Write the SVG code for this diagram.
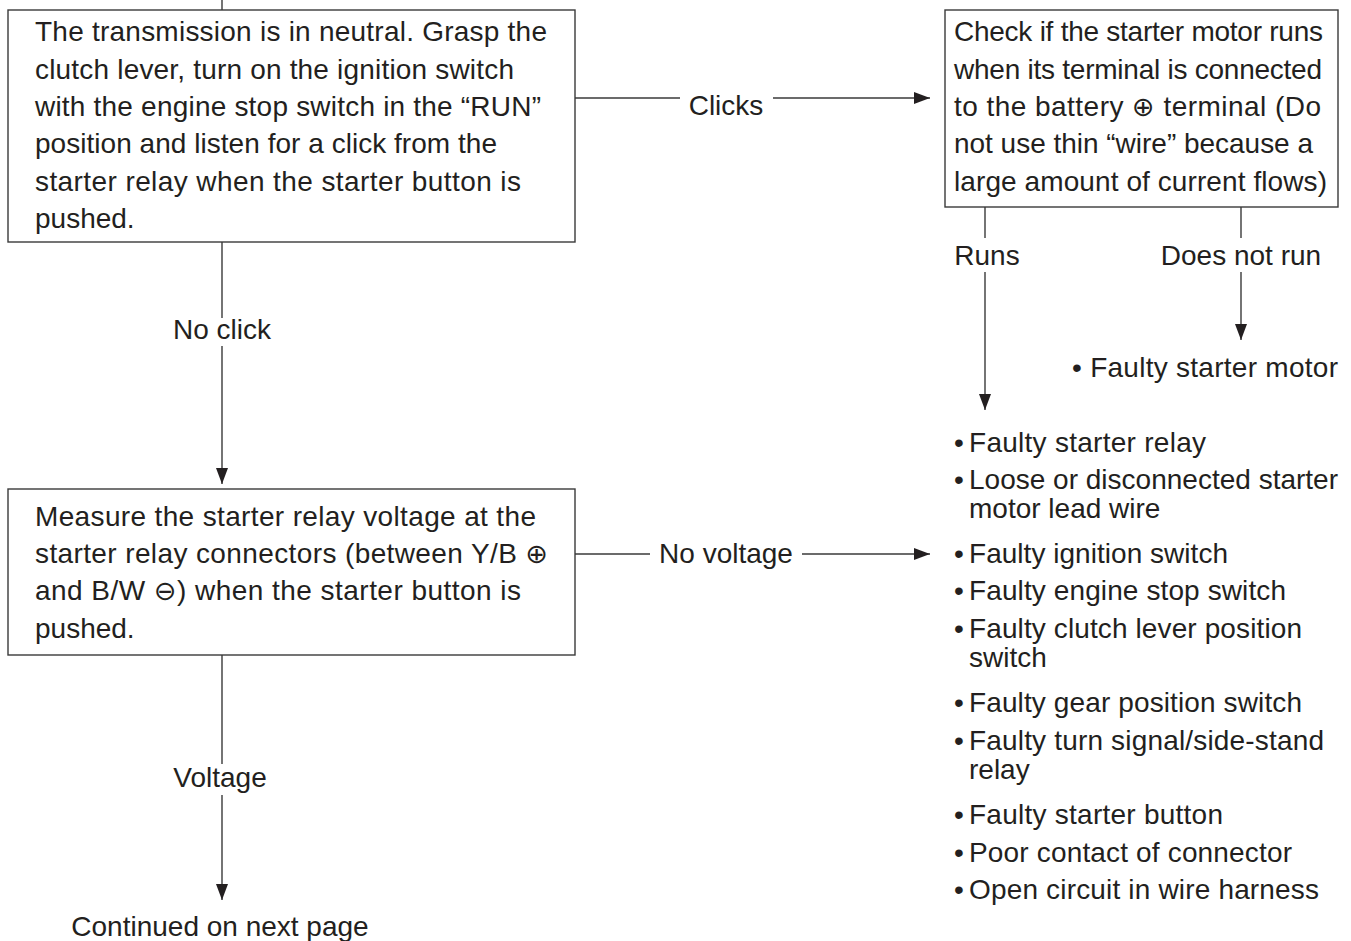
<svg xmlns="http://www.w3.org/2000/svg" width="1351" height="941" viewBox="0 0 1351 941">
<defs>
<style>
text{font-family:"Liberation Sans",Arial,sans-serif;font-size:28px;fill:#231f20}
.sym{font-family:"DejaVu Sans",sans-serif;font-size:27px}
.box{fill:#fff;stroke:#3a3a3a;stroke-width:1.4}
.ln{stroke:#3a3a3a;stroke-width:1.4;fill:none}
.lbl{text-anchor:middle}
</style>
<marker id="ah" markerUnits="userSpaceOnUse" markerWidth="18" markerHeight="14" refX="16" refY="7" orient="auto">
<path d="M0,1 L16,7 L0,13 Z" fill="#231f20"/>
</marker>
</defs>
<rect width="1351" height="941" fill="#fff"/>
<g id="connectors">
<line class="ln" x1="222" y1="0" x2="222" y2="10"/>
<line class="ln" x1="575" y1="98" x2="680" y2="98"/>
<line class="ln" x1="773" y1="98" x2="930" y2="98" marker-end="url(#ah)"/>
<line class="ln" x1="222" y1="242" x2="222" y2="318"/>
<line class="ln" x1="222" y1="346" x2="222" y2="484" marker-end="url(#ah)"/>
<line class="ln" x1="985" y1="207" x2="985" y2="238"/>
<line class="ln" x1="1241" y1="207" x2="1241" y2="238"/>
<line class="ln" x1="985" y1="272" x2="985" y2="410" marker-end="url(#ah)"/>
<line class="ln" x1="1241" y1="272" x2="1241" y2="340" marker-end="url(#ah)"/>
<line class="ln" x1="575" y1="554" x2="650" y2="554"/>
<line class="ln" x1="802" y1="554" x2="930" y2="554" marker-end="url(#ah)"/>
<line class="ln" x1="222" y1="655" x2="222" y2="764"/>
<line class="ln" x1="222" y1="795" x2="222" y2="900" marker-end="url(#ah)"/>
<text class="lbl" x="726" y="115">Clicks</text>
<text class="lbl" x="222" y="339">No click</text>
<text class="lbl" x="987" y="265">Runs</text>
<text class="lbl" x="1241" y="265">Does not run</text>
<text class="lbl" x="726" y="563">No voltage</text>
<text class="lbl" x="220" y="787">Voltage</text>
</g>
<g id="node-check-click">
<rect class="box" x="8" y="10" width="567" height="232"/>
<text x="35" y="41" textLength="512">The transmission is in neutral. Grasp the</text>
<text x="35" y="79" textLength="479">clutch lever, turn on the ignition switch</text>
<text x="35" y="116" textLength="506">with the engine stop switch in the “RUN”</text>
<text x="35" y="153" textLength="462">position and listen for a click from the</text>
<text x="35" y="191" textLength="486">starter relay when the starter button is</text>
<text x="35" y="228">pushed.</text>
</g>
<g id="node-starter-motor">
<rect class="box" x="945" y="10" width="393" height="197"/>
<text x="954" y="41" textLength="369">Check if the starter motor runs</text>
<text x="954" y="79" textLength="368">when its terminal is connected</text>
<text x="954" y="116" textLength="367">to the battery <tspan class="sym">⊕</tspan> terminal (Do</text>
<text x="954" y="153" textLength="359">not use thin “wire” because a</text>
<text x="954" y="191" textLength="373">large amount of current flows)</text>
</g>
<g id="node-faulty-motor">
<text x="1072" y="377" textLength="266">• Faulty starter motor</text>
</g>
<g id="node-measure">
<rect class="box" x="8" y="489" width="567" height="166"/>
<text x="35" y="526" textLength="501">Measure the starter relay voltage at the</text>
<text x="35" y="563" textLength="513">starter relay connectors (between Y/B <tspan class="sym">⊕</tspan></text>
<text x="35" y="600" textLength="486">and B/W <tspan class="sym">⊖</tspan>) when the starter button is</text>
<text x="35" y="638">pushed.</text>
</g>
<g id="node-causes">
<text x="954" y="452">•</text><text x="969" y="452" textLength="237">Faulty starter relay</text>
<text x="954" y="489">•</text><text x="969" y="489" textLength="369">Loose or disconnected starter</text>
<text x="969" y="518">motor lead wire</text>
<text x="954" y="563">•</text><text x="969" y="563" textLength="259">Faulty ignition switch</text>
<text x="954" y="600">•</text><text x="969" y="600" textLength="317">Faulty engine stop switch</text>
<text x="954" y="638">•</text><text x="969" y="638" textLength="333">Faulty clutch lever position</text>
<text x="969" y="667">switch</text>
<text x="954" y="712">•</text><text x="969" y="712" textLength="333">Faulty gear position switch</text>
<text x="954" y="750">•</text><text x="969" y="750" textLength="355">Faulty turn signal/side-stand</text>
<text x="969" y="779">relay</text>
<text x="954" y="824">•</text><text x="969" y="824" textLength="254">Faulty starter button</text>
<text x="954" y="862">•</text><text x="969" y="862" textLength="323">Poor contact of connector</text>
<text x="954" y="899">•</text><text x="969" y="899" textLength="350">Open circuit in wire harness</text>
</g>
<g id="node-continued">
<text class="lbl" x="220" y="936">Continued on next page</text>
</g>
</svg>
